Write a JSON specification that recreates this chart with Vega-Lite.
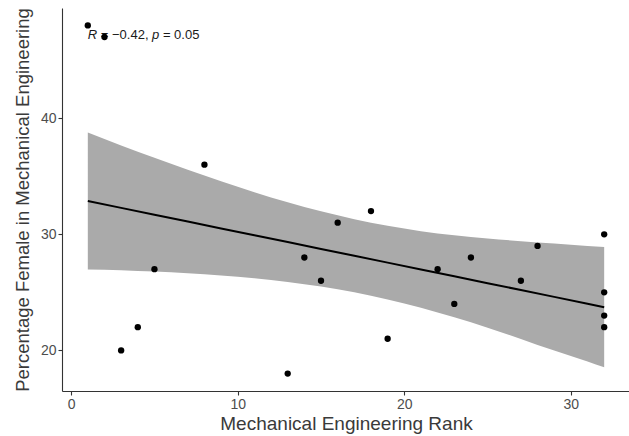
{
  "$schema": "https://vega.github.io/schema/vega-lite/v6.json",
  "width": 568,
  "height": 383,
  "autosize": {"type": "none"},
  "padding": {"left": 62, "top": 8, "right": 0, "bottom": 45},
  "background": "white",
  "config": {
    "view": {"stroke": null},
    "font": "Liberation Sans",
    "axis": {
      "grid": false,
      "domainColor": "#333333",
      "domainWidth": 1.1,
      "tickColor": "#333333",
      "tickWidth": 1.1,
      "tickSize": 4,
      "labelColor": "#4d4d4d",
      "labelFontSize": 14,
      "labelPadding": 2,
      "titleColor": "#3a3a3a",
      "titleFontWeight": "normal"
    }
  },
  "datasets": {
    "points": [
      {"x": 1, "y": 48}, {"x": 2, "y": 47}, {"x": 3, "y": 20}, {"x": 4, "y": 22},
      {"x": 5, "y": 27}, {"x": 8, "y": 36}, {"x": 13, "y": 18}, {"x": 14, "y": 28},
      {"x": 15, "y": 26}, {"x": 16, "y": 31}, {"x": 18, "y": 32}, {"x": 19, "y": 21},
      {"x": 22, "y": 27}, {"x": 23, "y": 24}, {"x": 24, "y": 28}, {"x": 27, "y": 26},
      {"x": 28, "y": 29}, {"x": 32, "y": 30}, {"x": 32, "y": 25}, {"x": 32, "y": 23},
      {"x": 32, "y": 22}
    ],
    "fit": [
      {"x": 1, "fit": 32.87, "lo": 26.97, "hi": 38.77},
      {"x": 3, "fit": 32.28, "lo": 26.91, "hi": 37.65},
      {"x": 5, "fit": 31.69, "lo": 26.79, "hi": 36.59},
      {"x": 7, "fit": 31.10, "lo": 26.64, "hi": 35.56},
      {"x": 9, "fit": 30.51, "lo": 26.45, "hi": 34.57},
      {"x": 11, "fit": 29.92, "lo": 26.21, "hi": 33.63},
      {"x": 13, "fit": 29.33, "lo": 25.90, "hi": 32.76},
      {"x": 15, "fit": 28.74, "lo": 25.50, "hi": 31.98},
      {"x": 17, "fit": 28.15, "lo": 25.00, "hi": 31.30},
      {"x": 19, "fit": 27.56, "lo": 24.39, "hi": 30.73},
      {"x": 21, "fit": 26.97, "lo": 23.67, "hi": 30.27},
      {"x": 23, "fit": 26.38, "lo": 22.85, "hi": 29.91},
      {"x": 25, "fit": 25.79, "lo": 21.95, "hi": 29.63},
      {"x": 27, "fit": 25.20, "lo": 20.99, "hi": 29.41},
      {"x": 29, "fit": 24.61, "lo": 19.98, "hi": 29.20},
      {"x": 31, "fit": 24.02, "lo": 19.05, "hi": 29.00},
      {"x": 32, "fit": 23.72, "lo": 18.55, "hi": 28.90}
    ],
    "label": [
      {"x": 1, "y": 47.16, "r": "R", "eq1": "= \u22120.42,", "p": "p", "eq2": "= 0.05"}
    ]
  },
  "layer": [
    {
      "data": {"name": "fit"},
      "mark": {"type": "area", "color": "#aaaaaa", "opacity": 1, "interpolate": "monotone"},
      "encoding": {
        "x": {"field": "x", "type": "quantitative", "title": "Mechanical Engineering Rank",
              "scale": {"domain": [-0.55, 33.55], "nice": false, "zero": false},
              "axis": {"values": [0, 10, 20, 30], "titleFontSize": 19, "titlePadding": 3}},
        "y": {"field": "lo", "type": "quantitative", "title": "Percentage Female in Mechanical Engineering",
              "scale": {"domain": [16.5, 49.5], "nice": false, "zero": false},
              "axis": {"values": [20, 30, 40], "titleFontSize": 18.5, "titlePadding": 8}},
        "y2": {"field": "hi"}
      }
    },
    {
      "data": {"name": "fit"},
      "mark": {"type": "line", "color": "black", "strokeWidth": 2},
      "encoding": {
        "x": {"field": "x", "type": "quantitative", "title": "Mechanical Engineering Rank"},
        "y": {"field": "fit", "type": "quantitative", "title": "Percentage Female in Mechanical Engineering"}
      }
    },
    {
      "data": {"name": "label"},
      "mark": {"type": "text", "align": "left", "baseline": "middle", "fontSize": 13, "fontStyle": "italic", "color": "#1a1a1a", "dx": 0},
      "encoding": {
        "x": {"field": "x", "type": "quantitative", "title": "Mechanical Engineering Rank"},
        "y": {"field": "y", "type": "quantitative", "title": "Percentage Female in Mechanical Engineering"},
        "text": {"field": "r"}
      }
    },
    {
      "data": {"name": "label"},
      "mark": {"type": "text", "align": "left", "baseline": "middle", "fontSize": 13, "color": "#1a1a1a", "dx": 13.0},
      "encoding": {
        "x": {"field": "x", "type": "quantitative", "title": "Mechanical Engineering Rank"},
        "y": {"field": "y", "type": "quantitative", "title": "Percentage Female in Mechanical Engineering"},
        "text": {"field": "eq1"}
      }
    },
    {
      "data": {"name": "label"},
      "mark": {"type": "text", "align": "left", "baseline": "middle", "fontSize": 13, "fontStyle": "italic", "color": "#1a1a1a", "dx": 64.3},
      "encoding": {
        "x": {"field": "x", "type": "quantitative", "title": "Mechanical Engineering Rank"},
        "y": {"field": "y", "type": "quantitative", "title": "Percentage Female in Mechanical Engineering"},
        "text": {"field": "p"}
      }
    },
    {
      "data": {"name": "label"},
      "mark": {"type": "text", "align": "left", "baseline": "middle", "fontSize": 13, "color": "#1a1a1a", "dx": 75.1},
      "encoding": {
        "x": {"field": "x", "type": "quantitative", "title": "Mechanical Engineering Rank"},
        "y": {"field": "y", "type": "quantitative", "title": "Percentage Female in Mechanical Engineering"},
        "text": {"field": "eq2"}
      }
    },
    {
      "data": {"name": "points"},
      "mark": {"type": "circle", "color": "black", "opacity": 1, "size": 40},
      "encoding": {
        "x": {"field": "x", "type": "quantitative", "title": "Mechanical Engineering Rank"},
        "y": {"field": "y", "type": "quantitative", "title": "Percentage Female in Mechanical Engineering"}
      }
    }
  ]
}
